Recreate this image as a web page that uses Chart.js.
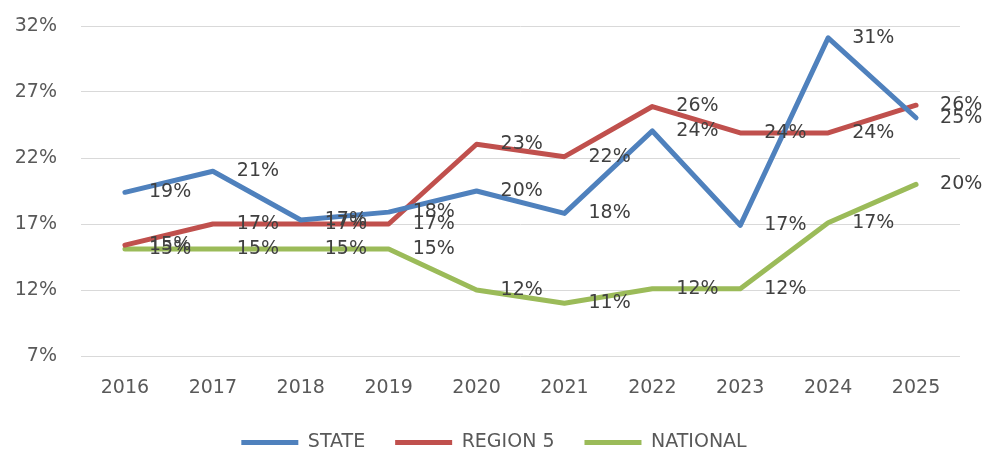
<!DOCTYPE html>
<html>
<head>
<meta charset="utf-8">
<script src="https://cdn.jsdelivr.net/npm/chart.js@4/dist/chart.umd.min.js"></script>
<style>
  html, body { margin: 0; padding: 0; background: #fff; }
  #wrap { width: 986px; height: 454px; }
</style>
</head>
<body>
<div id="wrap"><canvas id="chart"></canvas></div>
<script>
const years = ['2016', '2017', '2018', '2019', '2020', '2021', '2022', '2023', '2024', '2025'];
const stateValues = [19.4, 21.0, 17.3, 17.9, 19.5, 17.8, 24.05, 16.9, 31.1, 25.05];
const region5Values = [15.4, 17.0, 17.0, 17.0, 23.04, 22.1, 25.9, 23.9, 23.9, 26.0];
const nationalValues = [15.1, 15.1, 15.1, 15.1, 12.0, 11.0, 12.1, 12.1, 17.1, 20.0];
const yTicks = [7, 12, 17, 22, 27, 32];

const FONT = 'DejaVu Sans';
const SIZE = 19;

// draws the rounded % labels to the right of every point
const pointLabels = {
    id: 'pointLabels',
    afterDatasetsDraw(chart) {
        const ctx = chart.ctx;
        ctx.save();
        ctx.font = SIZE + 'px "' + FONT + '"';
        ctx.fillStyle = '#404040';
        ctx.textAlign = 'left';
        ctx.textBaseline = 'middle';
        chart.data.datasets.forEach((ds, i) => {
            chart.getDatasetMeta(i).data.forEach((pt, j) => {
                ctx.fillText(Math.round(ds.data[j]) + '%', pt.x + 24, pt.y);
            });
        });
        ctx.restore();
    }
};

// fixed legend height, nudged a bit to the right
const legendFit = {
    id: 'legendFit',
    beforeLayout(chart) {
        const lg = chart.legend;
        if (lg && !lg._fitPatched) {
            const orig = lg.fit;
            lg.fit = function () {
                orig.call(this);
                this.height = 51;
                if (this.lineWidths && this.lineWidths.length) this.lineWidths[0] -= 28;
            };
            lg._fitPatched = true;
        }
    }
};

const line = (label, data, color) => ({
    label,
    data,
    borderColor: color,
    backgroundColor: color,
    borderWidth: 5,
    borderJoinStyle: 'round',
    borderCapStyle: 'round',
    pointRadius: 0,
    tension: 0
});

new Chart(document.getElementById('chart'), {
    type: 'line',
    data: {
        labels: years,
        datasets: [
            line('STATE', stateValues, '#4F81BD'),
            line('REGION 5', region5Values, '#C0504D'),
            line('NATIONAL', nationalValues, '#9BBB59')
        ]
    },
    plugins: [pointLabels, legendFit],
    options: {
        responsive: true,
        maintainAspectRatio: false,
        animation: false,
        layout: { padding: { top: 26, right: 26, bottom: 0, left: 0 } },
        plugins: {
            tooltip: { enabled: false },
            legend: {
                position: 'bottom',
                labels: {
                    usePointStyle: true,
                    pointStyle: 'line',
                    pointStyleWidth: 57,
                    padding: 30,
                    color: '#595959',
                    font: { family: FONT, size: SIZE }
                }
            }
        },
        scales: {
            x: {
                offset: true,
                grid: { display: false, drawTicks: false },
                border: { display: false },
                ticks: { color: '#595959', padding: 21, font: { family: FONT, size: SIZE } },
                afterFit(s) { s.height = 47; }
            },
            y: {
                min: 7,
                max: 32,
                afterBuildTicks(s) { s.ticks = yTicks.map(v => ({ value: v })); },
                grid: { color: '#D9D9D9', lineWidth: 1, drawTicks: false },
                border: { display: false },
                ticks: {
                    color: '#595959',
                    padding: 24,
                    font: { family: FONT, size: SIZE },
                    callback: v => v + '%'
                },
                afterFit(s) {
                    s.width = 81;
                    s.paddingTop = 0;
                    s.paddingBottom = 0;
                }
            }
        }
    }
});
</script>
</body>
</html>
